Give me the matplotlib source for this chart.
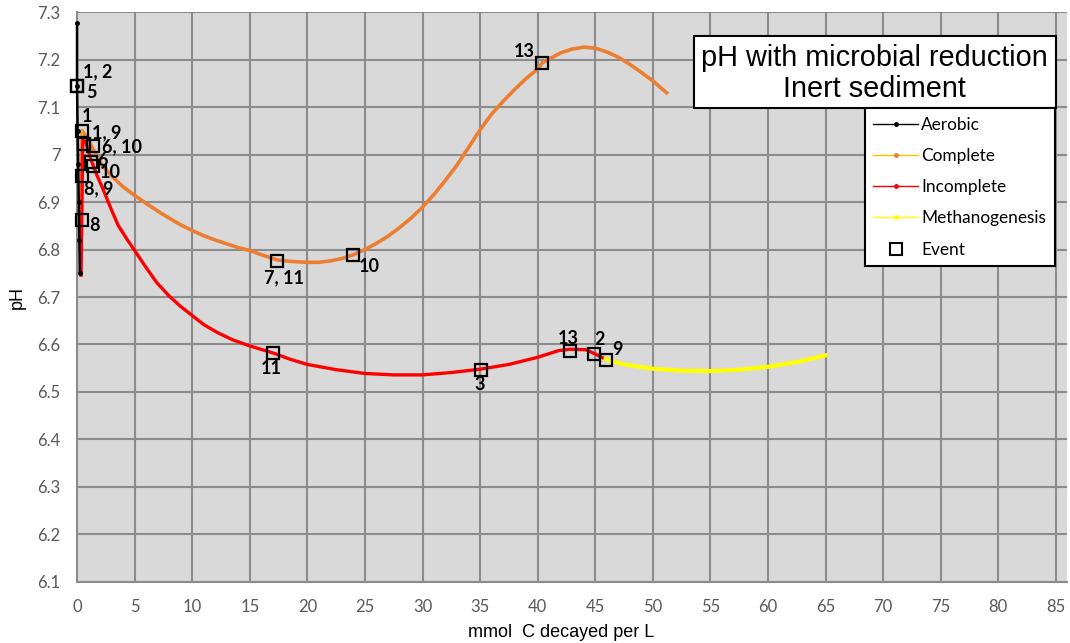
import matplotlib.pyplot as plt
from matplotlib.lines import Line2D
from matplotlib.patches import Rectangle

# Aerobic phase (black)
aer_x = [0.0, 0.0, 0.05, 0.1, 0.15, 0.2, 0.25]
aer_ph = [7.277, 7.145, 7.05, 6.98, 6.9, 6.82, 6.75]

# Complete reduction (orange)
com_x = [0.3, 0.45, 0.8, 1.2, 1.7, 2.2, 3, 4, 5, 6, 7, 8, 9, 10, 11, 12, 13, 14, 15, 16,
         17.4, 18.5, 20, 21, 22, 23, 24, 25, 26, 27, 28, 29, 30, 31, 32, 33, 34, 35, 36,
         37, 38, 39, 40, 40.4, 41, 42, 43, 44, 45, 46, 47, 48, 49, 50, 51.2]
com_ph = [6.75, 7.05, 7.035, 7.02, 6.998, 6.977, 6.955, 6.932, 6.914, 6.897, 6.881,
          6.866, 6.852, 6.84, 6.829, 6.82, 6.812, 6.804, 6.798, 6.789, 6.778, 6.775,
          6.773, 6.773, 6.776, 6.781, 6.789, 6.8, 6.813, 6.828, 6.846, 6.866, 6.889,
          6.916, 6.946, 6.978, 7.015, 7.052, 7.085, 7.112, 7.137, 7.16, 7.18, 7.193,
          7.201, 7.214, 7.222, 7.226, 7.224, 7.216, 7.205, 7.19, 7.173, 7.155, 7.13]

# Incomplete reduction (red)
inc_x = [0.35, 0.5, 0.75, 1.2, 1.7, 2.24, 3, 3.57, 4.3, 5, 6, 6.9, 8, 9, 10, 11, 12.2,
         13.5, 15, 17.04, 18.5, 20, 22.5, 25, 27.5, 30, 32.5, 35, 37.5, 40, 41.8, 42.8,
         44.2, 45, 45.9]
inc_ph = [6.746, 7.03, 7.027, 6.99, 6.958, 6.928, 6.883, 6.851, 6.823, 6.798, 6.762,
          6.731, 6.702, 6.68, 6.661, 6.642, 6.625, 6.61, 6.597, 6.582, 6.569, 6.558,
          6.547, 6.539, 6.536, 6.536, 6.541, 6.548, 6.558, 6.573, 6.587, 6.59, 6.589,
          6.58, 6.569]

# Methanogenesis (yellow)
met_x = [45.9, 47.5, 50, 52.4, 55, 57.5, 60, 62.5, 65]
met_ph = [6.569, 6.558, 6.549, 6.545, 6.544, 6.547, 6.553, 6.563, 6.577]

# Events: x, pH, label, label offset in pixels
ev_x = [0.0, 0.0, 0.4, 0.6, 1.4, 1.2, 1.4, 0.45, 0.4, 17.4, 23.96, 40.4, 17.04, 35.05,
        42.8, 44.9, 45.95]
ev_ph = [7.145, 7.145, 7.05, 7.022, 7.017, 6.985, 6.975, 6.955, 6.863, 6.776, 6.789,
         7.193, 6.582, 6.547, 6.587, 6.58, 6.568]
ev_lab = ['1, 2', '5', '1', '1, 9', '6, 10', '6', '10', '8, 9', '8', '7, 11', '10', '13',
          '11', '3', '13', '2', '9']
ev_off = [(21, 14), (14, -7), (5, 14), (23, 11), (29, 0), (12, 1), (17, -6), (16, -13),
          (13, -6), (7, -17), (16, -12), (-18, 11), (-2, -15), (-1, -15), (-2, 12),
          (5, 14), (11, 10)]

fig = plt.figure(figsize=(10.7, 6.43), dpi=100)
ax = fig.add_axes([0.072, 0.0949, 0.925, 0.8864])
ax.set_facecolor('#D9D9D9')

ax.plot(aer_x, aer_ph, color='black', lw=1.8, marker='o', ms=2.5, zorder=5, clip_on=False)
ax.plot(com_x, com_ph, color='#ED7D31', lw=2.6, zorder=3)
ax.plot(com_x[:2], com_ph[:2], color='#FFC000', lw=1, zorder=3)
ax.plot(inc_x, inc_ph, color='#FF0000', lw=2.4, zorder=3)
ax.plot(met_x, met_ph, color='#FFFF00', lw=3, zorder=3)
ax.plot(ev_x, ev_ph, ls='none', marker='s', ms=8.5, mfc='none', mec='black', mew=1.6,
        zorder=6, clip_on=False)

for x, y, t, (dx, dy) in zip(ev_x, ev_ph, ev_lab, ev_off):
    ax.annotate(t, (x, y), xytext=(dx, dy), textcoords='offset pixels', ha='center',
                va='center', fontsize=13, fontweight='bold', family='Lato', zorder=7)

ax.set_xlim(0, 85.95)
ax.set_ylim(6.1, 7.3)
ax.set_xticks(range(0, 90, 5))
ax.set_yticks([6.1 + 0.1 * i for i in range(13)])
ax.set_yticklabels(['6.1', '6.2', '6.3', '6.4', '6.5', '6.6', '6.7', '6.8', '6.9', '7',
                    '7.1', '7.2', '7.3'])
ax.grid(True, color='#8C8C8C', lw=1.5)
ax.set_axisbelow(True)
ax.tick_params(length=0, labelsize=12, colors='#595959', pad=12)
for lab in ax.get_xticklabels() + ax.get_yticklabels():
    lab.set_family('Lato')
for s in ['top', 'right']:
    ax.spines[s].set_visible(False)
for s in ['left', 'bottom']:
    ax.spines[s].set_color('#8C8C8C')
    ax.spines[s].set_linewidth(1.5)

ax.set_xlabel('mmol  C decayed per L', fontsize=13, family='Liberation Sans', labelpad=7)
ax.xaxis.label.set_x(0.489)
ax.set_ylabel('pH', fontsize=13, family='Liberation Sans', labelpad=8)

# title box
ax.add_patch(Rectangle((0.623, 0.8316), 0.366, 0.1264, transform=ax.transAxes,
                       facecolor='white', edgecolor='black', lw=1.5, zorder=8))
ax.text(0.806, 0.892, 'pH with microbial reduction\nInert sediment',
        transform=ax.transAxes, ha='center', va='center', fontsize=20.8,
        family='Liberation Sans', linespacing=1.15, zorder=9)

handles = [
    Line2D([], [], color='black', lw=1, marker='o', ms=2.5),
    Line2D([], [], color='#FFC000', lw=1, marker='o', ms=2.5, mfc='#ED7D31', mec='#ED7D31'),
    Line2D([], [], color='#FF0000', lw=1, marker='o', ms=2.5),
    Line2D([], [], color='#FFFF00', lw=1, marker='o', ms=2.5),
    Line2D([], [], ls='none', marker='s', ms=8, mfc='none', mec='black', mew=1.5),
]
leg = ax.legend(handles, ['Aerobic', 'Complete', 'Incomplete', 'Methanogenesis', 'Event'],
                loc='upper right', bbox_to_anchor=(0.988, 0.831), borderaxespad=0,
                fancybox=False, framealpha=1, edgecolor='black',
                prop={'family': 'Lato', 'size': 12.4}, labelspacing=0.88,
                handlelength=2.6, handletextpad=0.2, borderpad=0.5)
leg.get_frame().set_linewidth(1.5)
leg.set_zorder(10)

plt.savefig('out.png', dpi=100)
